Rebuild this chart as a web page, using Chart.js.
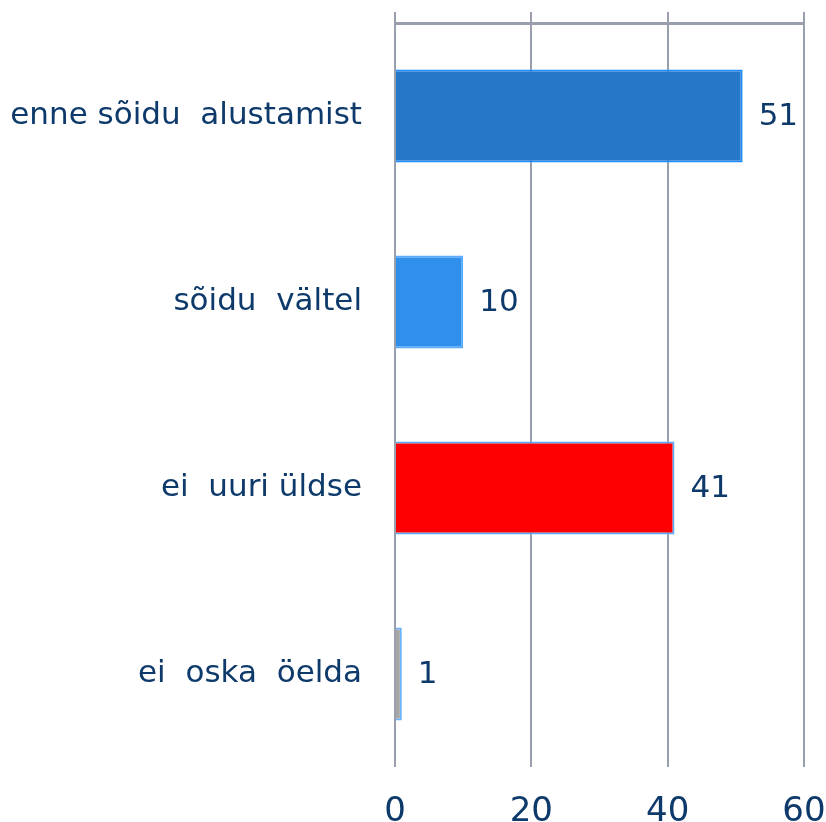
<!DOCTYPE html>
<html>
<head>
<meta charset="utf-8">
<script src="https://cdn.jsdelivr.net/npm/chart.js@4/dist/chart.umd.min.js"></script>
<style>
  html, body { margin: 0; padding: 0; background: #fff; }
  #wrap { width: 826px; height: 822px; }
</style>
</head>
<body>
<div id="wrap"><canvas id="chart"></canvas></div>
<script>
const categories = ["enne sõidu  alustamist", "sõidu  vältel", "ei  uuri üldse", "ei  oska  öelda"];
const shares = [51, 10, 41, 1];
const xTicks = [0, 20, 40, 60];

const textColor = "#0d3a6a";
const gridColor = "#9a9fae";
const fillColors = ["#2577c7", "#2f8fea", "#ff0000", "#a6a6a6"];
const edgeColors = ["#1e8cff", "#5aaaff", "#5aaaff", "#6ab4ff"];
const fontFamily = "'DejaVu Sans', Verdana, sans-serif";

// numbers to the right of each bar
const valueLabels = {
  id: "valueLabels",
  afterDatasetsDraw(chart) {
    const { ctx } = chart;
    const meta = chart.getDatasetMeta(0);
    ctx.save();
    ctx.fillStyle = textColor;
    ctx.font = "31px " + fontFamily;
    ctx.textAlign = "left";
    ctx.textBaseline = "middle";
    meta.data.forEach((bar, i) => {
      ctx.fillText(String(shares[i]), bar.x + 16, bar.y + 1);
    });
    ctx.restore();
  }
};

new Chart(document.getElementById("chart"), {
  type: "bar",
  data: {
    labels: categories,
    datasets: [{
      data: shares,
      backgroundColor: fillColors,
      borderColor: edgeColors,
      borderWidth: 2,
      borderSkipped: "start",
      barPercentage: 0.5,
      categoryPercentage: 1
    }]
  },
  plugins: [valueLabels],
  options: {
    indexAxis: "y",
    responsive: true,
    maintainAspectRatio: false,
    animation: false,
    layout: { padding: { top: 12, right: 22, left: 0, bottom: 0 } },
    plugins: {
      legend: { display: false },
      tooltip: { enabled: false }
    },
    scales: {
      x: {
        position: "bottom",
        min: 0,
        max: 60,
        afterBuildTicks: s => { s.ticks = xTicks.map(v => ({ value: v })); },
        afterFit: s => {
          s.height = 55;
          s.paddingLeft = 0;
          s.paddingRight = 0;
        },
        grid: { color: gridColor, lineWidth: 2, drawTicks: false },
        border: { display: false },
        ticks: {
          color: textColor,
          padding: 25,
          maxRotation: 0,
          font: { size: 34, family: fontFamily }
        }
      },
      x2: {
        position: "top",
        min: 0,
        max: 60,
        afterBuildTicks: s => { s.ticks = xTicks.map(v => ({ value: v })); },
        afterFit: s => { s.height = 11; },
        grid: { color: gridColor, lineWidth: 2, drawOnChartArea: false, tickLength: 11 },
        border: { display: true, color: gridColor, width: 3 },
        ticks: { display: false }
      },
      y: {
        afterFit: s => {
          s.width = 395;
          s.paddingTop = 0;
          s.paddingBottom = 0;
        },
        grid: { display: false, drawTicks: false },
        border: { display: false },
        ticks: {
          color: textColor,
          padding: 33,
          font: { size: 31, family: fontFamily }
        }
      }
    }
  }
});
</script>
</body>
</html>
